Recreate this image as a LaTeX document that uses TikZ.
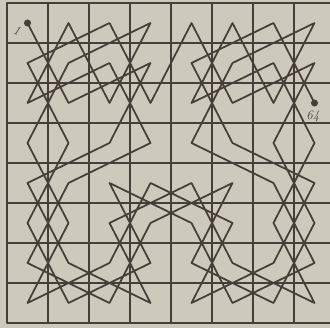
\documentclass[tikz,border=0pt]{standalone}
\usepackage{tikz}

\definecolor{paper}{RGB}{206,201,189}
\definecolor{ink}{RGB}{70,62,56}

\begin{document}
\begin{tikzpicture}[x=1.23cm,y=-1.2cm,line join=round,
    board/.style={draw=ink,line width=1.1pt},
    tour/.style={draw=ink,line width=1.5pt},
    tag/.style={text=ink,font=\fontsize{11}{13}\selectfont\itshape}]
  \useasboundingbox (-0.171,-0.075) rectangle (7.878,8.125);
  \fill[paper] (-0.171,-0.075) rectangle (7.878,8.125);
  \clip (-0.171,-0.075) rectangle (7.878,8.125);
  \foreach \i in {1,...,7} {
    \draw[board] (\i,0) -- (\i,8);
    \draw[board] (0,\i) -- (8,\i);
  }
  \draw[board,line width=2.2pt] (0,0) rectangle (8,8);
  % square centres, named q<column><row>
  \foreach \c in {0,...,7} \foreach \r in {0,...,7} \coordinate (q\c\r) at (\c+.5,\r+.5);
  \draw[tour] (q00) \foreach \q in {12,31,23,04,16,37,25,44,56,77,65,73,61,42,50,62,
    70,51,43,64,76,57,45,24,36,17,05,13,01,20,32,40,52,71,63,75,67,46,54,35,27,06,
    14,33,21,02,10,22,30,11,03,15,07,26,34,55,47,66,74,53,41,60,72} { -- (q\q)};
  \fill[ink] (q00) circle (3pt);
  \fill[ink] (q72) circle (3pt);
  \node[tag,rotate=-20] (first) at (0.24,0.7) {1};
  \node[tag] (last) at (7.46,2.83) {64};
\end{tikzpicture}
\end{document}
